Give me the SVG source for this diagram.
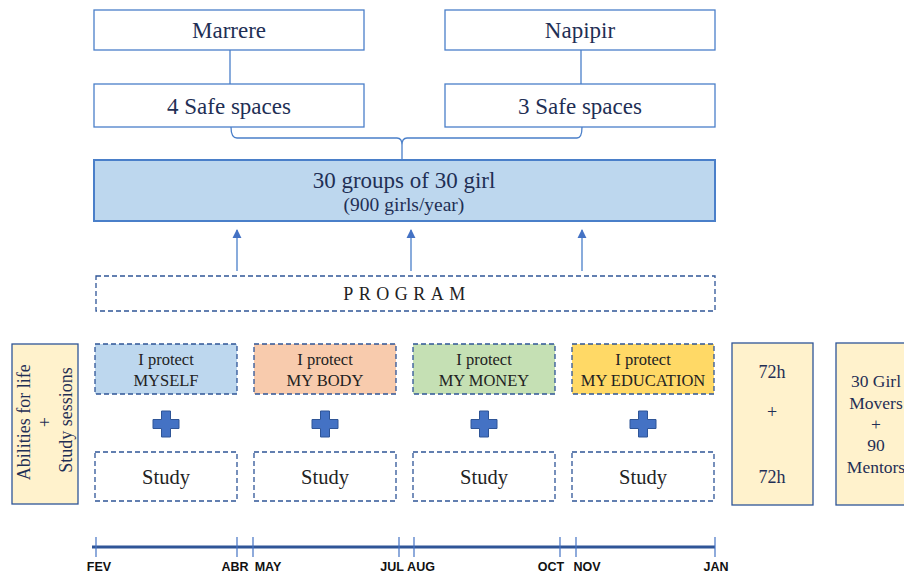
<svg xmlns="http://www.w3.org/2000/svg" width="904" height="574" viewBox="0 0 904 574">
  <defs>
    <style>
      .t { font-family: "Liberation Serif", "Times New Roman", serif; fill: #1F2F55; text-anchor: middle; }
      .dk { font-family: "Liberation Serif", "Times New Roman", serif; fill: #222; text-anchor: middle; }
      .solid { fill: #fff; stroke: #4A7FC9; stroke-width: 1.3; }
      .dash { stroke: #2F5597; stroke-width: 1.3; stroke-dasharray: 5 3; }
      .tan { fill: #FFF2CC; stroke: #2F5597; stroke-width: 1.3; }
      .conn { fill: none; stroke: #4A7FC9; stroke-width: 1.3; }
      .plus { fill: #4472C4; stroke: #2F5597; stroke-width: 1; }
      .mon { font-family: "Liberation Sans", Arial, sans-serif; font-weight: bold; font-size: 12.5px; fill: #111; text-anchor: middle; }
    </style>
    <marker id="arr" viewBox="0 0 10 10" refX="9" refY="5" markerWidth="7" markerHeight="7" orient="auto">
      <path d="M0,0 L10,5 L0,10 z" fill="#4472C4"/>
    </marker>
    <path id="plusShape" d="M-4.5,-13 H4.5 V-4.5 H13 V4.5 H4.5 V13 H-4.5 V4.5 H-13 V-4.5 H-4.5 Z"/>
  </defs>

  <!-- connectors -->
  <g id="connectors">
    <line class="conn" x1="230" y1="50" x2="230" y2="84"/>
    <line class="conn" x1="581" y1="50" x2="581" y2="84"/>
    <!-- brace joining the safe spaces into the groups box -->
    <path class="conn" d="M231,127 Q231,138 237,138 H397 Q402,138 402,145 V160 M402,145 Q402,138 407,138 H577 Q582,138 582,127"/>
    <line class="conn" x1="237" y1="271" x2="237" y2="230" marker-end="url(#arr)"/>
    <line class="conn" x1="411" y1="271" x2="411" y2="230" marker-end="url(#arr)"/>
    <line class="conn" x1="582" y1="271" x2="582" y2="230" marker-end="url(#arr)"/>
  </g>

  <g id="marrere">
    <rect class="solid" x="94" y="10" width="270" height="40"/>
    <text class="t" x="229" y="38" font-size="23">Marrere</text>
  </g>
  <g id="napipir">
    <rect class="solid" x="445" y="10" width="270" height="40"/>
    <text class="t" x="580" y="38" font-size="23">Napipir</text>
  </g>
  <g id="safe4">
    <rect class="solid" x="94" y="84" width="270" height="43"/>
    <text class="t" x="229" y="114" font-size="23">4 Safe spaces</text>
  </g>
  <g id="safe3">
    <rect class="solid" x="445" y="84" width="270" height="43"/>
    <text class="t" x="580" y="114" font-size="23">3 Safe spaces</text>
  </g>

  <g id="groups">
    <rect x="94" y="160" width="621" height="61" fill="#BDD7EE" stroke="#4A7FC9" stroke-width="2"/>
    <text class="t" x="404" y="188" font-size="23">30 groups of 30 girl</text>
    <text class="t" x="404" y="211" font-size="19.5">(900 girls/year)</text>
  </g>

  <g id="program">
    <rect class="dash" x="96" y="276" width="619" height="35" fill="#fff"/>
    <text class="dk" x="407" y="300" font-size="18" letter-spacing="5.5">PROGRAM</text>
  </g>

  <g id="abilities">
    <rect class="tan" x="12" y="344" width="66" height="160"/>
    <text class="t" transform="translate(45,420) rotate(-90)" font-size="18">
      <tspan x="0" y="-15">Abilities for life</tspan>
      <tspan x="0" y="6">+</tspan>
      <tspan x="0" y="27">Study sessions</tspan>
    </text>
  </g>

  <g id="myself">
    <rect class="dash" x="95" y="344" width="142" height="50" fill="#BDD7EE"/>
    <text class="dk" x="166" y="365" font-size="16.5">I protect</text>
    <text class="dk" x="166" y="386" font-size="16.5">MYSELF</text>
  </g>
  <g id="mybody">
    <rect class="dash" x="254" y="344" width="142" height="50" fill="#F8CBAD"/>
    <text class="dk" x="325" y="365" font-size="16.5">I protect</text>
    <text class="dk" x="325" y="386" font-size="16.5">MY BODY</text>
  </g>
  <g id="mymoney">
    <rect class="dash" x="413" y="344" width="142" height="50" fill="#C5E0B4"/>
    <text class="dk" x="484" y="365" font-size="16.5">I protect</text>
    <text class="dk" x="484" y="386" font-size="16.5">MY MONEY</text>
  </g>
  <g id="myeducation">
    <rect class="dash" x="572" y="344" width="142" height="50" fill="#FFD966"/>
    <text class="dk" x="643" y="365" font-size="16.5">I protect</text>
    <text class="dk" x="643" y="386" font-size="16.5">MY EDUCATION</text>
  </g>

  <g id="plus-signs">
    <use href="#plusShape" class="plus" x="166" y="424"/>
    <use href="#plusShape" class="plus" x="325" y="424"/>
    <use href="#plusShape" class="plus" x="484" y="424"/>
    <use href="#plusShape" class="plus" x="643" y="424"/>
  </g>

  <g id="study1">
    <rect class="dash" x="95" y="452" width="142" height="49" fill="#fff"/>
    <text class="dk" x="166" y="484" font-size="20.5">Study</text>
  </g>
  <g id="study2">
    <rect class="dash" x="254" y="452" width="142" height="49" fill="#fff"/>
    <text class="dk" x="325" y="484" font-size="20.5">Study</text>
  </g>
  <g id="study3">
    <rect class="dash" x="413" y="452" width="142" height="49" fill="#fff"/>
    <text class="dk" x="484" y="484" font-size="20.5">Study</text>
  </g>
  <g id="study4">
    <rect class="dash" x="572" y="452" width="142" height="49" fill="#fff"/>
    <text class="dk" x="643" y="484" font-size="20.5">Study</text>
  </g>

  <g id="hours">
    <rect class="tan" x="732" y="343" width="81" height="162"/>
    <text class="t" x="772" y="378" font-size="18">72h</text>
    <text class="t" x="772" y="418" font-size="18">+</text>
    <text class="t" x="772" y="483" font-size="18">72h</text>
  </g>

  <g id="movers">
    <rect class="tan" x="836" y="343" width="80" height="162"/>
    <text class="t" x="876" y="387" font-size="17.5">30 Girl</text>
    <text class="t" x="876" y="409" font-size="17.5">Movers</text>
    <text class="t" x="876" y="430" font-size="17.5">+</text>
    <text class="t" x="876" y="451" font-size="17.5">90</text>
    <text class="t" x="876" y="473" font-size="17.5">Mentors</text>
  </g>

  <g id="timeline">
    <line x1="92" y1="547" x2="715" y2="547" stroke="#2F5597" stroke-width="3"/>
    <g stroke="#4472C4" stroke-width="1.2">
      <line x1="96" y1="537" x2="96" y2="557"/>
      <line x1="237" y1="537" x2="237" y2="557"/>
      <line x1="253" y1="537" x2="253" y2="557"/>
      <line x1="399" y1="537" x2="399" y2="557"/>
      <line x1="414" y1="537" x2="414" y2="557"/>
      <line x1="560" y1="537" x2="560" y2="557"/>
      <line x1="576" y1="537" x2="576" y2="557"/>
      <line x1="715" y1="537" x2="715" y2="557"/>
    </g>
    <text class="mon" x="99" y="571">FEV</text>
    <text class="mon" x="235" y="571">ABR</text>
    <text class="mon" x="268" y="571">MAY</text>
    <text class="mon" x="392" y="571">JUL</text>
    <text class="mon" x="421" y="571">AUG</text>
    <text class="mon" x="551" y="571">OCT</text>
    <text class="mon" x="587" y="571">NOV</text>
    <text class="mon" x="716" y="571">JAN</text>
  </g>
</svg>
